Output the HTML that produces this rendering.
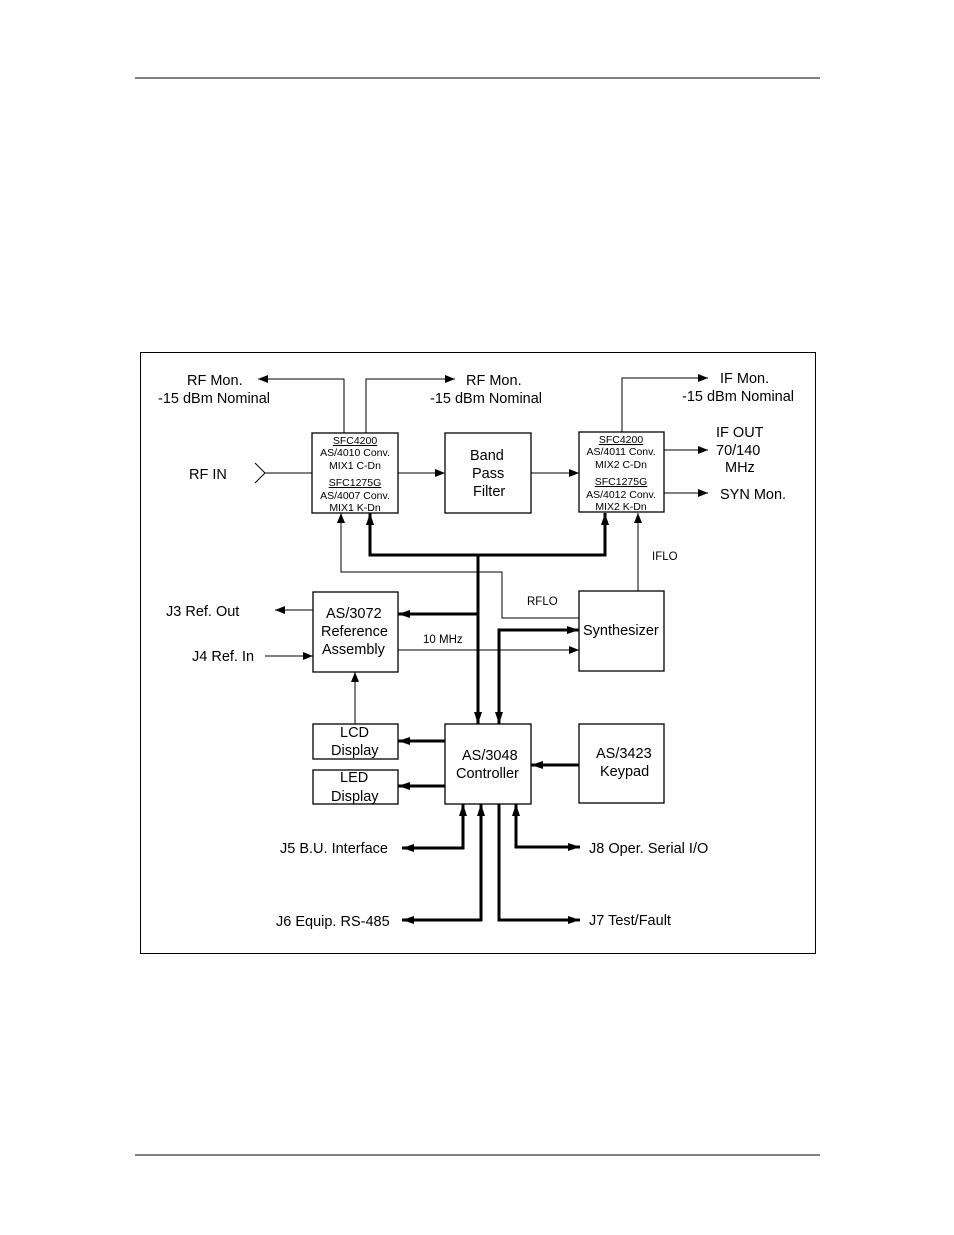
<!DOCTYPE html>
<html><head><meta charset="utf-8"><style>
body{margin:0;background:#fff}
svg{display:block}
text{font-family:"Liberation Sans",Arial,sans-serif;fill:#000}
</style></head><body>
<svg width="954" height="1235" viewBox="0 0 954 1235" xmlns="http://www.w3.org/2000/svg">
<defs>
<marker id="a" markerWidth="10" markerHeight="8" refX="10" refY="4" orient="auto-start-reverse" markerUnits="userSpaceOnUse"><path d="M0,0 L10,4 L0,8 Z" fill="#000"/></marker>
<marker id="b" markerWidth="12" markerHeight="8" refX="12" refY="4" orient="auto-start-reverse" markerUnits="userSpaceOnUse"><path d="M0,0 L12,4 L0,8 Z" fill="#000"/></marker>
</defs>
<line x1="135" y1="78" x2="820" y2="78" stroke="#000" stroke-width="1"/>
<line x1="135" y1="1155" x2="820" y2="1155" stroke="#000" stroke-width="1"/>
<rect x="140.5" y="352.5" width="675" height="601" fill="none" stroke="#000" stroke-width="1"/>

<g fill="none" stroke="#000" stroke-width="1.3">
<rect x="312" y="433" width="86" height="80"/>
<rect x="445" y="433" width="86" height="80"/>
<rect x="579" y="432" width="85" height="80"/>
<rect x="313" y="592" width="85" height="80"/>
<rect x="579" y="591" width="85" height="80"/>
<rect x="313" y="724" width="85" height="35"/>
<rect x="313" y="770" width="85" height="34"/>
<rect x="445" y="724" width="86" height="80"/>
<rect x="579" y="724" width="85" height="79"/>
</g>

<g fill="none" stroke="#000" stroke-width="1">
<polyline points="344,433 344,379 258,379" marker-end="url(#a)"/>
<polyline points="366,433 366,379 455,379" marker-end="url(#a)"/>
<polyline points="622,432 622,378 708,378" marker-end="url(#a)"/>
<polyline points="255,463 265,473 255,483"/>
<line x1="265" y1="473" x2="312" y2="473"/>
<line x1="398" y1="473" x2="445" y2="473" marker-end="url(#a)"/>
<line x1="531" y1="473" x2="579" y2="473" marker-end="url(#a)"/>
<line x1="664" y1="450" x2="708" y2="450" marker-end="url(#a)"/>
<line x1="664" y1="493" x2="708" y2="493" marker-end="url(#a)"/>
<polyline points="579,618 502,618 502,572 341,572 341,513" marker-end="url(#a)"/>
<line x1="638" y1="591" x2="638" y2="513" marker-end="url(#a)"/>
<line x1="398" y1="650" x2="579" y2="650" marker-end="url(#a)"/>
<line x1="313" y1="610" x2="275" y2="610" marker-end="url(#a)"/>
<line x1="265" y1="656" x2="313" y2="656" marker-end="url(#a)"/>
<line x1="355" y1="724" x2="355" y2="672" marker-end="url(#a)"/>
</g>

<g fill="none" stroke="#000" stroke-width="3">
<polyline points="370,513 370,555 605,555 605,513" marker-start="url(#b)" marker-end="url(#b)"/>
<line x1="478" y1="555" x2="478" y2="724" marker-end="url(#b)"/>
<line x1="478" y1="614" x2="398" y2="614" marker-end="url(#b)"/>
<polyline points="499,724 499,630 579,630" marker-start="url(#b)" marker-end="url(#b)"/>
<line x1="445" y1="741" x2="398" y2="741" marker-end="url(#b)"/>
<line x1="445" y1="786" x2="398" y2="786" marker-end="url(#b)"/>
<line x1="579" y1="765" x2="531" y2="765" marker-end="url(#b)"/>
<polyline points="463,804 463,848 402,848" marker-start="url(#b)" marker-end="url(#b)"/>
<polyline points="481,804 481,920 402,920" marker-start="url(#b)" marker-end="url(#b)"/>
<polyline points="499,804 499,920 580,920" marker-end="url(#b)"/>
<polyline points="516,804 516,847 580,847" marker-start="url(#b)" marker-end="url(#b)"/>
</g>

<g font-size="14.5">
<text x="187" y="385">RF Mon.</text>
<text x="158" y="403">-15 dBm Nominal</text>
<text x="466" y="385">RF Mon.</text>
<text x="430" y="403">-15 dBm Nominal</text>
<text x="720" y="383">IF Mon.</text>
<text x="682" y="401">-15 dBm Nominal</text>
<text x="716" y="437">IF OUT</text>
<text x="716" y="455">70/140</text>
<text x="725" y="472">MHz</text>
<text x="720" y="499">SYN Mon.</text>
<text x="189" y="479">RF IN</text>
<text x="470" y="460">Band</text>
<text x="472" y="478">Pass</text>
<text x="473" y="496">Filter</text>
<text x="166" y="616">J3 Ref. Out</text>
<text x="192" y="661">J4 Ref. In</text>
<text x="326" y="618">AS/3072</text>
<text x="321" y="636">Reference</text>
<text x="322" y="654">Assembly</text>
<text x="583" y="635">Synthesizer</text>
<text x="340" y="737">LCD</text>
<text x="331" y="755">Display</text>
<text x="340" y="782">LED</text>
<text x="331" y="801">Display</text>
<text x="462" y="760">AS/3048</text>
<text x="456" y="778">Controller</text>
<text x="596" y="758">AS/3423</text>
<text x="600" y="776">Keypad</text>
<text x="280" y="853">J5 B.U. Interface</text>
<text x="276" y="926">J6 Equip. RS-485</text>
<text x="589" y="853">J8 Oper. Serial I/O</text>
<text x="589" y="925">J7 Test/Fault</text>
</g>
<g font-size="11.5">
<text x="527" y="605">RFLO</text>
<text x="652" y="560">IFLO</text>
<text x="423" y="643">10 MHz</text>
</g>
<g font-size="10.5" text-anchor="middle">
<text x="355" y="444" text-decoration="underline">SFC4200</text>
<text x="355" y="456">AS/4010 Conv.</text>
<text x="355" y="469">MIX1 C-Dn</text>
<text x="355" y="486" text-decoration="underline">SFC1275G</text>
<text x="355" y="499">AS/4007 Conv.</text>
<text x="355" y="511">MIX1 K-Dn</text>
<text x="621" y="443" text-decoration="underline">SFC4200</text>
<text x="621" y="455">AS/4011 Conv.</text>
<text x="621" y="468">MIX2 C-Dn</text>
<text x="621" y="485" text-decoration="underline">SFC1275G</text>
<text x="621" y="498">AS/4012 Conv.</text>
<text x="621" y="510">MIX2 K-Dn</text>
</g>
</svg>
</body></html>
